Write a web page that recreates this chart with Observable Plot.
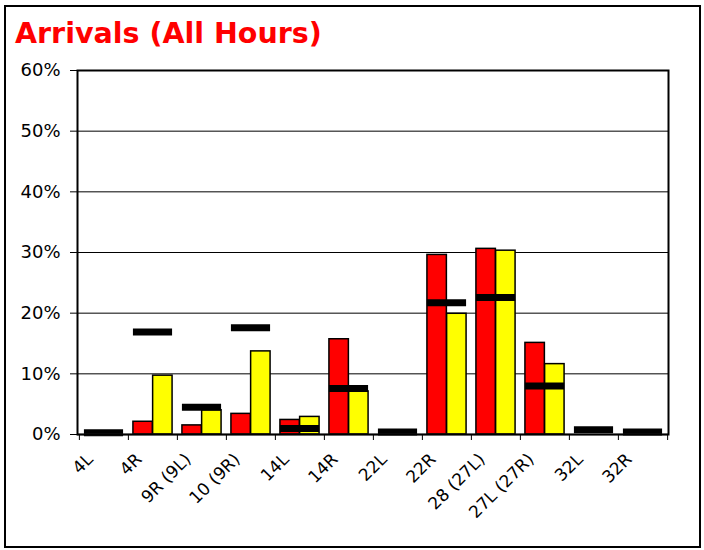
<!DOCTYPE html>
<html>
<head>
<meta charset="utf-8">
<script src="https://cdn.jsdelivr.net/npm/d3@7"></script>
<script src="https://cdn.jsdelivr.net/npm/@observablehq/plot@0.6"></script>
<style>
  html, body { margin: 0; padding: 0; background: #fff; }
  #wrap { position: relative; width: 704px; height: 550px; overflow: hidden; }
  #border { position: absolute; left: 4px; top: 5px; width: 697px; height: 543px; box-sizing: border-box; border: 2.5px solid #000; }
  #title { position: absolute; left: 15px; top: 20px; margin: 0; font-family: "DejaVu Sans", Verdana, sans-serif; font-weight: bold; font-size: 28.5px; line-height: 28px; color: #ff0000; white-space: nowrap; }
  #chart { position: absolute; left: 0; top: 50px; }
</style>
</head>
<body>
<div id="wrap">
  <div id="border"></div>
  <h1 id="title">Arrivals (All Hours)</h1>
  <div id="chart"></div>
</div>
<script>
const categories = ["4L", "4R", "9R (9L)", "10 (9R)", "14L", "14R", "22L", "22R", "28 (27L)", "27L (27R)", "32L", "32R"];
const redValues = [0, 2.1, 1.5, 3.4, 2.4, 15.7, 0, 29.6, 30.6, 15.1, 0, 0];
const yellowValues = [0, 9.7, 4.0, 13.7, 2.9, 7.1, 0, 19.9, 30.3, 11.6, 0, 0];
const blackValues = [0.3, 16.9, 4.5, 17.6, 1.0, 7.6, 0.4, 21.7, 22.6, 8.0, 0.8, 0.4];
const yTicks = [0, 10, 20, 30, 40, 50, 60];

const W = 704, H = 500, ML = 77, MR = 36, MT = 20, MB = 116;
const step = (W - ML - MR) / categories.length;

const redRows = categories.map((c, i) => ({cat: c, v: redValues[i]})).filter(d => d.v > 0);
const yellowRows = categories.map((c, i) => ({cat: c, v: yellowValues[i]})).filter(d => d.v > 0);
const blackRows = categories.map((c, i) => ({cat: c, v: blackValues[i]}));

const chart = Plot.plot({
  width: W, height: H,
  marginLeft: ML, marginRight: MR, marginTop: MT, marginBottom: MB,
  style: {fontFamily: "DejaVu Sans, Verdana, sans-serif", fontSize: "17px", color: "#000", background: "transparent", overflow: "visible"},
  x: {domain: categories, padding: 0, label: null, axis: null},
  y: {domain: [0, 60], label: null, axis: null},
  marks: [
    Plot.ruleY(yTicks.filter(v => v > 0 && v < 60), {stroke: "#000", strokeWidth: 1}),
    Plot.barY(redRows, {x: "cat", y: "v", fill: "#ff0000", stroke: "#000", strokeWidth: 1.5, insetLeft: 0.1 * step, insetRight: 0.5 * step}),
    Plot.barY(yellowRows, {x: "cat", y: "v", fill: "#ffff00", stroke: "#000", strokeWidth: 1.5, insetLeft: 0.5 * step, insetRight: 0.1 * step}),
    Plot.tickY(blackRows, {x: "cat", y: "v", stroke: "#000", strokeWidth: 7, insetLeft: 0.1 * step, insetRight: 0.1 * step}),
    Plot.ruleY([0], {stroke: "#444", strokeWidth: 1.5}),
    Plot.frame({stroke: "#000", strokeWidth: 2}),
    Plot.axisY({ticks: yTicks, tickFormat: d => d + "%", tickSize: 7, tickPadding: 10, fontSize: 18}),
    Plot.axisX({ticks: categories, tickSize: 6, tickFormat: () => "", dx: -step / 2}),
    Plot.axisX({ticks: categories.slice(-1), tickSize: 6, tickFormat: () => "", dx: step / 2}),
    Plot.axisX({ticks: categories, tickSize: 0, tickPadding: 22, tickRotate: -45, fontSize: 17, dx: -14})
  ]
});
document.getElementById("chart").appendChild(chart);
</script>
</body>
</html>
